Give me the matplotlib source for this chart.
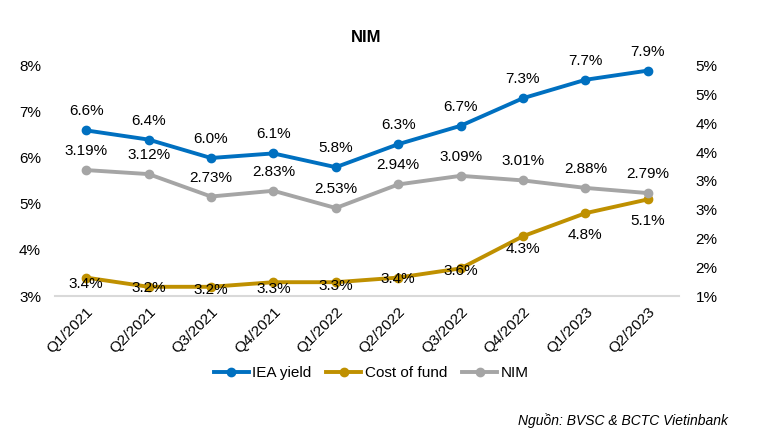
import matplotlib
matplotlib.use('Agg')
import matplotlib.pyplot as plt
from matplotlib.ticker import FuncFormatter, MultipleLocator

plt.rcParams['font.family'] = ['Liberation Sans', 'DejaVu Sans']

# du lieu doc tu hinh
quarters = ['Q1/2021', 'Q2/2021', 'Q3/2021', 'Q4/2021', 'Q1/2022',
            'Q2/2022', 'Q3/2022', 'Q4/2022', 'Q1/2023', 'Q2/2023']
iea_yield = [6.6, 6.4, 6.0, 6.1, 5.8, 6.3, 6.7, 7.3, 7.7, 7.9]
cost_of_fund = [3.4, 3.2, 3.2, 3.3, 3.3, 3.4, 3.6, 4.3, 4.8, 5.1]
nim = [3.19, 3.12, 2.73, 2.83, 2.53, 2.94, 3.09, 3.01, 2.88, 2.79]

# vi tri nhan cost of fund (pixel, xuong duoi)
cof_label_dy = [6, 1, 3, 7, 4, 1, 3, 13, 22, 22]

c_blue = '#0070C0'
c_gold = '#BF9000'
c_gray = '#A5A5A5'

fs = 11

fig = plt.figure(figsize=(7.65, 4.29), dpi=100)
ax = fig.add_axes([55 / 765, 1 - 296 / 429, (679 - 55) / 765, (296 - 66) / 429])
ax2 = ax.twinx()

x = list(range(len(quarters)))
l1, = ax.plot(x, iea_yield, color=c_blue, lw=2.8, marker='o', ms=6, label='IEA yield', zorder=3)
l2, = ax.plot(x, cost_of_fund, color=c_gold, lw=2.8, marker='o', ms=6, label='Cost of fund', zorder=3)
l3, = ax2.plot(x, nim, color=c_gray, lw=2.8, marker='o', ms=6, label='NIM', zorder=3)

ax.set_xlim(-0.5, len(quarters) - 0.5)
ax.set_ylim(3, 8)
ax2.set_ylim(1, 5)
ax.yaxis.set_major_locator(MultipleLocator(1))
ax2.yaxis.set_major_locator(MultipleLocator(0.5))
ax.yaxis.set_major_formatter(FuncFormatter(lambda v, p: '%d%%' % int(v + 0.5)))
ax2.yaxis.set_major_formatter(FuncFormatter(lambda v, p: '%d%%' % int(v + 0.5)))

for a in (ax, ax2):
    for s in a.spines.values():
        s.set_visible(False)
    a.tick_params(length=0, labelsize=fs, colors='black')
ax.spines['bottom'].set_visible(True)
ax.spines['bottom'].set_color('#D9D9D9')
ax.spines['bottom'].set_linewidth(1.5)
ax.tick_params(axis='y', pad=10)
ax2.tick_params(axis='y', pad=12)

ax.set_xticks(x)
ax.set_xticklabels(quarters, rotation=45, ha='right', rotation_mode='anchor')
ax.tick_params(axis='x', pad=6)

for i in x:
    ax.annotate('%.1f%%' % iea_yield[i], (i, iea_yield[i]), xytext=(0, 19),
                textcoords='offset pixels', ha='center', va='center', fontsize=fs)
    ax.annotate('%.1f%%' % cost_of_fund[i], (i, cost_of_fund[i]), xytext=(0, -cof_label_dy[i]),
                textcoords='offset pixels', ha='center', va='center', fontsize=fs, zorder=5)
    ax2.annotate('%.2f%%' % nim[i], (i, nim[i]), xytext=(0, 19),
                 textcoords='offset pixels', ha='center', va='center', fontsize=fs)

fig.text(366 / 765, 1 - 37 / 429, 'NIM', ha='center', va='center', fontsize=12, fontweight='bold')

fig.legend(handles=[l1, l2, l3], loc='center', bbox_to_anchor=(371 / 765, 1 - 373 / 429),
           ncol=3, frameon=False, fontsize=fs, handlelength=2.3, columnspacing=1.0,
           handletextpad=0.2)

fig.text(728 / 765, 1 - 421 / 429, 'Nguồn: BVSC & BCTC Vietinbank', ha='right', va='center',
         fontsize=10, style='italic')

fig.savefig('out.png', dpi=100)
